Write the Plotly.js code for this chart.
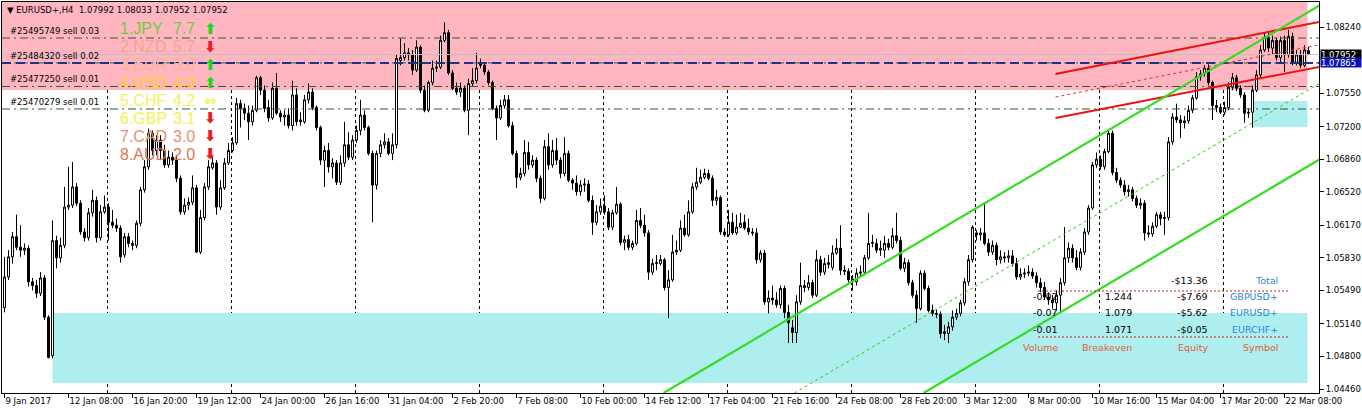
<!DOCTYPE html>
<html><head><meta charset="utf-8">
<script src="https://cdn.plot.ly/plotly-3.0.1.min.js"></script>
<style>html,body{margin:0;padding:0;background:#fff;}#chart{width:1362px;height:414px;}</style>
</head><body><div id="chart"></div>
<script>
// EURUSD+ H4 bars (index 0 = 9 Jan 2017 16:00)
const open=[1.0531,1.0563,1.0584,1.0605,1.0594,1.0591,1.0593,1.0558,1.0554,1.0546,
1.0562,1.0521,1.0481,1.0601,1.0583,1.0596,1.0636,1.0638,1.0657,1.0640,
1.0610,1.0604,1.0630,1.0643,1.0604,1.0631,1.0636,1.0620,1.0617,1.0614,
1.0586,1.0605,1.0598,1.0596,1.0619,1.0654,1.0678,1.0713,1.0695,1.0706,
1.0695,1.0680,1.0688,1.0685,1.0666,1.0631,1.0638,1.0641,1.0656,1.0589,
1.0625,1.0657,1.0677,1.0682,1.0636,1.0656,1.0682,1.0695,1.0703,1.0744,
1.0739,1.0734,1.0725,1.0737,1.0771,1.0758,1.0740,1.0729,1.0760,1.0734,
1.0730,1.0732,1.0721,1.0753,1.0727,1.0725,1.0748,1.0756,1.0740,1.0719,
1.0685,1.0695,1.0678,1.0682,1.0662,1.0682,1.0701,1.0688,1.0706,1.0716,
1.0732,1.0719,1.0692,1.0659,1.0692,1.0701,1.0704,1.0692,1.0701,1.0789,
1.0792,1.0797,1.0795,1.0779,1.0803,1.0758,1.0737,1.0766,1.0781,1.0782,
1.0810,1.0818,1.0776,1.0760,1.0756,1.0760,1.0737,1.0765,1.0768,1.0787,
1.0784,1.0777,1.0766,1.0739,1.0729,1.0742,1.0748,1.0721,1.0692,1.0667,
1.0671,1.0693,1.0680,1.0685,1.0666,1.0645,1.0699,1.0680,1.0695,1.0685,
1.0671,1.0692,1.0664,1.0661,1.0652,1.0659,1.0660,1.0643,1.0620,1.0631,
1.0637,1.0631,1.0615,1.0630,1.0639,1.0599,1.0602,1.0594,1.0598,1.0622,
1.0617,1.0609,1.0568,1.0577,1.0577,1.0581,1.0552,1.0560,1.0589,1.0591,
1.0614,1.0607,1.0631,1.0657,1.0662,1.0667,1.0671,1.0666,1.0643,1.0646,
1.0610,1.0607,1.0620,1.0609,1.0615,1.0620,1.0614,1.0610,1.0609,1.0581,
1.0588,1.0537,1.0541,1.0539,1.0534,1.0551,1.0526,1.0510,1.0505,1.0537,
1.0554,1.0552,1.0557,1.0544,1.0581,1.0568,1.0576,1.0573,1.0588,1.0593,
1.0570,1.0569,1.0561,1.0558,1.0567,1.0568,1.0583,1.0598,1.0598,1.0591,
1.0591,1.0598,1.0594,1.0606,1.0601,1.0572,1.0578,1.0557,1.0544,1.0530,
1.0567,1.0551,1.0528,1.0525,1.0524,1.0504,1.0504,1.0511,1.0521,1.0525,
1.0536,1.0558,1.0581,1.0609,1.0607,1.0609,1.0598,1.0589,1.0596,1.0581,
1.0584,1.0583,1.0585,1.0577,1.0563,1.0566,1.0567,1.0568,1.0564,1.0557,
1.0552,1.0542,1.0539,1.0536,1.0544,1.0557,1.0583,1.0593,1.0583,1.0573,
1.0589,1.0610,1.0635,1.0680,1.0686,1.0678,1.0694,1.0713,1.0672,1.0664,
1.0659,1.0652,1.0654,1.0645,1.0638,1.0640,1.0609,1.0608,1.0616,1.0628,
1.0624,1.0625,1.0704,1.0730,1.0727,1.0724,1.0726,1.0737,1.0750,1.0772,
1.0775,1.0781,1.0766,1.0742,1.0740,1.0735,1.0740,1.0761,1.0771,1.0760,
1.0753,1.0734,1.0735,1.0758,1.0774,1.0800,1.0813,1.0802,1.0810,1.0792,
1.0810,1.0795,1.0814,1.0787,1.0795,1.0784,1.07992];
const high=[1.0584,1.0591,1.0610,1.0628,1.0617,1.0598,1.0596,1.0562,1.0560,1.0568,
1.0565,1.0523,1.0622,1.0606,1.0604,1.0657,1.0678,1.0683,1.0661,1.0643,
1.0614,1.0635,1.0654,1.0647,1.0638,1.0648,1.0640,1.0633,1.0624,1.0617,
1.0609,1.0609,1.0601,1.0622,1.0657,1.0685,1.0718,1.0716,1.0711,1.0711,
1.0701,1.0695,1.0693,1.0690,1.0669,1.0645,1.0646,1.0669,1.0659,1.0633,
1.0661,1.0685,1.0690,1.0685,1.0664,1.0687,1.0703,1.0709,1.0750,1.0748,
1.0744,1.0742,1.0742,1.0773,1.0773,1.0763,1.0748,1.0766,1.0776,1.0737,
1.0737,1.0739,1.0768,1.0760,1.0735,1.0753,1.0765,1.0760,1.0742,1.0721,
1.0700,1.0703,1.0687,1.0685,1.0690,1.0725,1.0714,1.0711,1.0721,1.0748,
1.0737,1.0721,1.0695,1.0695,1.0706,1.0713,1.0708,1.0713,1.0795,1.0812,
1.0807,1.0802,1.0800,1.0810,1.0805,1.0763,1.0768,1.0789,1.0789,1.0815,
1.0829,1.0821,1.0779,1.0766,1.0766,1.0763,1.0770,1.0781,1.0797,1.0791,
1.0787,1.0779,1.0768,1.0742,1.0748,1.0753,1.0753,1.0725,1.0695,1.0677,
1.0706,1.0704,1.0690,1.0688,1.0669,1.0706,1.0713,1.0706,1.0708,1.0688,
1.0709,1.0695,1.0666,1.0669,1.0664,1.0666,1.0664,1.0648,1.0638,1.0645,
1.0648,1.0635,1.0633,1.0657,1.0641,1.0606,1.0607,1.0601,1.0633,1.0635,
1.0628,1.0612,1.0582,1.0586,1.0586,1.0583,1.0570,1.0607,1.0601,1.0622,
1.0628,1.0643,1.0661,1.0677,1.0675,1.0676,1.0675,1.0669,1.0654,1.0648,
1.0614,1.0633,1.0630,1.0628,1.0630,1.0628,1.0624,1.0614,1.0614,1.0591,
1.0591,1.0549,1.0554,1.0547,1.0554,1.0554,1.0534,1.0518,1.0544,1.0578,
1.0560,1.0565,1.0560,1.0591,1.0585,1.0583,1.0586,1.0596,1.0603,1.0617,
1.0575,1.0572,1.0565,1.0572,1.0575,1.0586,1.0630,1.0607,1.0603,1.0601,
1.0606,1.0603,1.0614,1.0630,1.0605,1.0583,1.0581,1.0560,1.0549,1.0570,
1.0570,1.0554,1.0534,1.0529,1.0527,1.0513,1.0516,1.0528,1.0530,1.0539,
1.0562,1.0586,1.0617,1.0612,1.0614,1.0640,1.0603,1.0601,1.0599,1.0591,
1.0589,1.0591,1.0591,1.0583,1.0572,1.0572,1.0575,1.0572,1.0568,1.0562,
1.0558,1.0547,1.0544,1.0549,1.0562,1.0615,1.0599,1.0597,1.0591,1.0593,
1.0614,1.0638,1.0683,1.0693,1.0690,1.0697,1.0716,1.0716,1.0677,1.0667,
1.0664,1.0659,1.0657,1.0648,1.0645,1.0643,1.0617,1.0620,1.0631,1.0631,
1.0631,1.0709,1.0734,1.0744,1.0732,1.0731,1.0742,1.0753,1.0777,1.0779,
1.0784,1.0785,1.0768,1.0748,1.0744,1.0746,1.0766,1.0776,1.0774,1.0763,
1.0756,1.0739,1.0763,1.0779,1.0805,1.0818,1.0818,1.0815,1.0813,1.0814,
1.0815,1.0821,1.0818,1.0800,1.0800,1.0805,1.08033];
const low=[1.0526,1.0560,1.0577,1.0591,1.0584,1.0586,1.0553,1.0549,1.0541,1.0543,
1.0518,1.0478,1.0478,1.0572,1.0578,1.0593,1.0633,1.0635,1.0637,1.0607,
1.0600,1.0601,1.0626,1.0599,1.0601,1.0629,1.0601,1.0614,1.0610,1.0578,
1.0583,1.0594,1.0591,1.0593,1.0616,1.0651,1.0675,1.0690,1.0690,1.0685,
1.0677,1.0677,1.0680,1.0662,1.0628,1.0628,1.0633,1.0638,1.0588,1.0587,
1.0622,1.0654,1.0675,1.0628,1.0633,1.0654,1.0680,1.0693,1.0701,1.0719,
1.0727,1.0706,1.0721,1.0735,1.0753,1.0735,1.0725,1.0727,1.0732,1.0725,
1.0721,1.0718,1.0716,1.0721,1.0721,1.0723,1.0744,1.0737,1.0716,1.0680,
1.0657,1.0672,1.0666,1.0659,1.0659,1.0678,1.0685,1.0685,1.0703,1.0711,
1.0716,1.0690,1.0620,1.0654,1.0688,1.0697,1.0690,1.0685,1.0697,1.0784,
1.0789,1.0789,1.0774,1.0777,1.0755,1.0735,1.0735,1.0763,1.0777,1.0780,
1.0808,1.0774,1.0758,1.0753,1.0751,1.0735,1.0711,1.0762,1.0765,1.0781,
1.0774,1.0763,1.0737,1.0706,1.0727,1.0739,1.0719,1.0690,1.0656,1.0664,
1.0668,1.0675,1.0677,1.0662,1.0640,1.0643,1.0675,1.0677,1.0680,1.0666,
1.0668,1.0662,1.0654,1.0648,1.0648,1.0652,1.0641,1.0607,1.0617,1.0628,
1.0628,1.0612,1.0612,1.0628,1.0596,1.0591,1.0591,1.0591,1.0596,1.0614,
1.0605,1.0560,1.0565,1.0570,1.0575,1.0549,1.0520,1.0558,1.0586,1.0589,
1.0605,1.0605,1.0629,1.0654,1.0660,1.0665,1.0664,1.0637,1.0638,1.0607,
1.0605,1.0605,1.0607,1.0607,1.0614,1.0612,1.0607,1.0606,1.0577,1.0578,
1.0534,1.0525,1.0534,1.0531,1.0530,1.0520,1.0494,1.0494,1.0494,1.0534,
1.0547,1.0549,1.0541,1.0542,1.0564,1.0565,1.0572,1.0570,1.0586,1.0565,
1.0565,1.0557,1.0549,1.0554,1.0564,1.0565,1.0581,1.0594,1.0588,1.0585,
1.0583,1.0591,1.0592,1.0598,1.0570,1.0568,1.0554,1.0541,1.0515,1.0528,
1.0549,1.0526,1.0522,1.0520,1.0499,1.0497,1.0494,1.0507,1.0518,1.0522,
1.0533,1.0554,1.0578,1.0601,1.0601,1.0596,1.0585,1.0586,1.0575,1.0577,
1.0578,1.0578,1.0574,1.0560,1.0560,1.0562,1.0564,1.0561,1.0552,1.0547,
1.0539,1.0534,1.0530,1.0528,1.0526,1.0554,1.0578,1.0578,1.0570,1.0570,
1.0586,1.0607,1.0633,1.0677,1.0675,1.0675,1.0692,1.0669,1.0661,1.0656,
1.0648,1.0647,1.0642,1.0635,1.0634,1.0601,1.0604,1.0605,1.0614,1.0617,
1.0607,1.0622,1.0701,1.0724,1.0708,1.0718,1.0723,1.0734,1.0748,1.0768,
1.0772,1.0763,1.0727,1.0735,1.0733,1.0732,1.0737,1.0758,1.0757,1.0750,
1.0724,1.0729,1.0719,1.0756,1.0771,1.0798,1.0798,1.0795,1.0789,1.0787,
1.0777,1.0792,1.0784,1.0784,1.0781,1.0782,1.07952];
const close=[1.0563,1.0584,1.0605,1.0594,1.0591,1.0593,1.0558,1.0554,1.0546,1.0562,
1.0521,1.0479,1.0601,1.0583,1.0596,1.0636,1.0638,1.0657,1.0640,1.0610,
1.0604,1.0630,1.0643,1.0604,1.0631,1.0636,1.0620,1.0617,1.0614,1.0584,
1.0605,1.0598,1.0596,1.0619,1.0654,1.0678,1.0713,1.0695,1.0706,1.0695,
1.0680,1.0688,1.0685,1.0666,1.0631,1.0638,1.0641,1.0656,1.0589,1.0625,
1.0657,1.0678,1.0682,1.0636,1.0656,1.0682,1.0695,1.0703,1.0744,1.0739,
1.0734,1.0725,1.0737,1.0771,1.0758,1.0739,1.0729,1.0760,1.0734,1.0730,
1.0732,1.0721,1.0753,1.0725,1.0725,1.0748,1.0756,1.0740,1.0719,1.0685,
1.0695,1.0678,1.0682,1.0662,1.0682,1.0701,1.0688,1.0706,1.0716,1.0732,
1.0719,1.0692,1.0659,1.0692,1.0701,1.0704,1.0692,1.0701,1.0791,1.0792,
1.0797,1.0795,1.0779,1.0803,1.0758,1.0737,1.0766,1.0781,1.0782,1.0810,
1.0818,1.0776,1.0760,1.0756,1.0760,1.0737,1.0765,1.0768,1.0781,1.0784,
1.0777,1.0766,1.0739,1.0729,1.0742,1.0748,1.0721,1.0692,1.0667,1.0671,
1.0693,1.0680,1.0685,1.0666,1.0645,1.0699,1.0680,1.0695,1.0685,1.0671,
1.0692,1.0664,1.0661,1.0652,1.0659,1.0660,1.0643,1.0620,1.0631,1.0637,
1.0631,1.0615,1.0630,1.0639,1.0599,1.0602,1.0594,1.0598,1.0622,1.0617,
1.0609,1.0568,1.0577,1.0578,1.0581,1.0552,1.0560,1.0589,1.0591,1.0614,
1.0607,1.0631,1.0657,1.0662,1.0667,1.0671,1.0666,1.0643,1.0646,1.0610,
1.0607,1.0620,1.0609,1.0615,1.0619,1.0614,1.0610,1.0609,1.0581,1.0588,
1.0537,1.0541,1.0539,1.0534,1.0551,1.0526,1.0515,1.0505,1.0537,1.0554,
1.0552,1.0557,1.0544,1.0581,1.0568,1.0577,1.0578,1.0588,1.0593,1.0570,
1.0569,1.0560,1.0558,1.0567,1.0568,1.0583,1.0598,1.0599,1.0591,1.0593,
1.0598,1.0594,1.0606,1.0601,1.0572,1.0578,1.0557,1.0544,1.0530,1.0567,
1.0551,1.0528,1.0525,1.0524,1.0504,1.0506,1.0511,1.0521,1.0525,1.0536,
1.0558,1.0581,1.0615,1.0607,1.0609,1.0598,1.0589,1.0596,1.0581,1.0584,
1.0583,1.0585,1.0577,1.0563,1.0566,1.0567,1.0568,1.0564,1.0557,1.0552,
1.0542,1.0539,1.0536,1.0544,1.0557,1.0583,1.0593,1.0583,1.0573,1.0589,
1.0610,1.0635,1.0680,1.0686,1.0678,1.0694,1.0713,1.0672,1.0664,1.0659,
1.0652,1.0654,1.0645,1.0638,1.0640,1.0609,1.0608,1.0616,1.0628,1.0624,
1.0625,1.0704,1.0730,1.0727,1.0724,1.0726,1.0737,1.0750,1.0772,1.0775,
1.0781,1.0766,1.0742,1.0740,1.0735,1.0740,1.0761,1.0771,1.0760,1.0753,
1.0734,1.0735,1.0758,1.0774,1.0800,1.0813,1.0802,1.0810,1.0792,1.0810,
1.0795,1.0814,1.0787,1.0795,1.0784,1.0800,1.07952];
const barIndex = open.map((_, i) => i);

const timeLabels = ["9 Jan 2017","12 Jan 08:00","16 Jan 20:00","19 Jan 12:00","24 Jan 00:00","26 Jan 16:00","31 Jan 04:00","2 Feb 20:00","7 Feb 08:00","10 Feb 00:00","14 Feb 12:00","17 Feb 04:00","21 Feb 16:00","24 Feb 08:00","28 Feb 20:00","3 Mar 12:00","8 Mar 00:00","10 Mar 16:00","15 Mar 04:00","17 Mar 20:00","22 Mar 08:00"];
const timeLabelBars = [0,16,32,48,64,80,96,112,128,144,160,176,192,208,224,240,256,272,288,304,320];
const priceTicks = [1.08240,1.07550,1.07200,1.06860,1.06520,1.06170,1.05830,1.05490,1.05140,1.04800,1.04460];
const weekBreaks = [25.75,56.75,87.75,118.75,149.75,180.75,211.75,242.75,273.75,304.75];

const bidPrice = 1.07952, avgPrice = 1.07865;
const orders = [["#25495749 sell 0.03",1.08125],["#25484320 sell 0.02",1.07865],["#25477250 sell 0.01",1.07619],["#25470279 sell 0.01",1.07384]];
// zones [x0 bar, x1 bar, price low, price high, colour]
const zones = [[-0.7,325.75,1.07582,1.0860,"#ffb6c1"],[12,325.75,1.04523,1.05254,"#afeeee"],[312,325.75,1.07196,1.07467,"#afeeee"]];
// trend lines [bar0, price0, bar1, price1, colour, width, dash]
const trendLines = [
 [262.75,1.07749,328.75,1.08294,"#ee1111",2,"solid"],
 [262.75,1.07290,328.75,1.07824,"#ee1111",2,"solid"],
 [262.75,1.07509,328.75,1.08055,"#d83030",1,"3px,3px"],
 [164.75,1.04418,328.75,1.08465,"#33dd22",2.2,"solid"],
 [197.5,1.04418,328.75,1.07651,"#33cc22",1,"3px,3px"],
 [229.75,1.04418,328.75,1.06857,"#33dd22",2.2,"solid"]];

const strength = [["1.JPY","7.7","#6acd45","up"],["2.NZD","5.7","#f3a58c","down"],["3.EUR","5.0","#f2b892","up"],["4.USD","4.9","#ffcf30","up"],["5.CHF","4.2","#f4f15c","flat"],["6.GBP","3.1","#f4f04e","down"],["7.CAD","3.0","#e8906a","down"],["8.AUD","2.0","#df7550","down"]];
const tblSymbols = ["GBPUSD+","EURUSD+","EURCHF+"];
const tblVolume = ["-0.02","-0.07","-0.01"];
const tblBreakeven = ["1.244","1.079","1.071"];
const tblEquity = ["-$7.69","-$5.62","-$0.05"];
const tblTotal = "-$13.36";

const L=2, T=2, W=1317, H=391;
const X0 = -0.625;
const PX = x => (x - L) / W;
const PY = y => (T + H - y) / H;
const F = "DejaVu Sans";

const shapes = [];
zones.forEach(z => shapes.push({type:"rect",xref:"x",yref:"y",x0:z[0],x1:z[1],y0:z[2],y1:z[3],fillcolor:z[4],line:{width:0},layer:"below"}));
weekBreaks.forEach(v => shapes.push({type:"line",xref:"x",yref:"paper",x0:v,x1:v,y0:0,y1:1,line:{color:"#000",width:1,dash:"3px,3px"},layer:"below"}));
orders.forEach(o => shapes.push({type:"line",xref:"paper",yref:"y",x0:0,x1:1,y0:o[1],y1:o[1],line:{color:"#2d5e2d",width:1,dash:"8px,4px,2px,4px"}}));
shapes.push({type:"line",xref:"paper",yref:"y",x0:0,x1:1,y0:bidPrice,y1:bidPrice,line:{color:"#c0c0c0",width:1}});
shapes.push({type:"line",xref:"paper",yref:"y",x0:0,x1:1,y0:avgPrice,y1:avgPrice,line:{color:"#1a3487",width:2,dash:"9px,5px"}});
trendLines.forEach(t => shapes.push({type:"line",xref:"x",yref:"y",x0:t[0],y0:t[1],x1:t[2],y1:t[3],line:{color:t[4],width:t[5],dash:t[6]}}));
[291,337].forEach(y => shapes.push({type:"line",xref:"paper",yref:"paper",x0:PX(1038),x1:PX(1290),y0:PY(y),y1:PY(y),line:{color:"#cc1a1a",width:1,dash:"2px,2px"}}));

const ann = [];
function txt(x, y, text, opt){
  ann.push(Object.assign({xref:"paper",yref:"paper",x:PX(x),y:PY(y),text:text,showarrow:false,xanchor:"left",yanchor:"middle",font:{family:F,size:8.5,color:"#000"}}, opt||{}));
}
txt(5, 10, "▼ EURUSD+,H4\u00a0 1.07992 1.08033 1.07952 1.07952");
orders.forEach(o => ann.push({xref:"paper",yref:"y",x:PX(8),y:o[1],yshift:7,text:o[0],showarrow:false,xanchor:"left",yanchor:"middle",font:{family:F,size:8.5,color:"#000"}}));
strength.forEach((s,k) => {
  const y = 29 + 17.9*k;
  txt(118, y, s[0], {font:{family:"Liberation Sans",size:16,color:s[2]}});
  txt(171, y, s[1], {font:{family:"Liberation Sans",size:16,color:s[2]}});
  const sym = s[3]==="up" ? "⬆" : (s[3]==="down" ? "⬇" : "⇔");
  const col = s[3]==="up" ? "#19d919" : (s[3]==="down" ? "#ee1c1c" : "#f4f15c");
  txt(210, y, sym, {xanchor:"center", font:{family:"DejaVu Sans",size:15,color:col,weight:"bold"}});
});
const tf = {family:F,size:9.5,color:"#000"};
const blue = {family:F,size:9.5,color:"#2a86dc"};
const orange = {family:F,size:9.5,color:"#e15f37"};
txt(1210, 280, tblTotal, {xanchor:"right", font:tf});
txt(1280, 280, "Total", {xanchor:"right", font:blue});
tblSymbols.forEach((s,k) => {
  const y = 296 + 16.5*k;
  txt(1060, y, tblVolume[k], {xanchor:"right", font:tf});
  txt(1103, y, tblBreakeven[k], {font:tf});
  txt(1210, y, tblEquity[k], {xanchor:"right", font:tf});
  txt(1280, y, s, {xanchor:"right", font:blue});
});
txt(1060, 347, "Volume", {xanchor:"right", font:orange});
txt(1080, 347, "Breakeven", {font:orange});
txt(1210, 347, "Equity", {xanchor:"right", font:orange});
txt(1280, 347, "Symbol", {xanchor:"right", font:orange});
ann.push({xref:"paper",yref:"y",x:PX(1320),y:bidPrice,text:"1.07952",showarrow:false,xanchor:"left",yanchor:"middle",bgcolor:"#000",borderpad:0,width:40,height:9,align:"left",font:{family:F,size:8.5,color:"#fff"}});
ann.push({xref:"paper",yref:"y",x:PX(1320),y:avgPrice,text:"1.07865",showarrow:false,xanchor:"left",yanchor:"middle",bgcolor:"#0c12b4",borderpad:0,width:40,height:9,align:"left",font:{family:F,size:8.5,color:"#fff"}});

const trace = {type:"candlestick",x:barIndex,open:open,high:high,low:low,close:close,
  increasing:{line:{color:"#000",width:1},fillcolor:"#fff"},
  decreasing:{line:{color:"#000",width:1},fillcolor:"#000"},
  whiskerwidth:0,hoverinfo:"skip",showlegend:false};

const layout = {
  width:1362,height:414,margin:{l:L,r:1362-L-W,t:T,b:414-T-H,pad:0},
  paper_bgcolor:"#fff",plot_bgcolor:"#fff",showlegend:false,
  boxgap:0.5,boxgroupgap:0,
  font:{family:F,size:8.5,color:"#000"},
  xaxis:{range:[X0,X0+W/4],rangeslider:{visible:false},showgrid:false,zeroline:false,
    tickmode:"array",tickvals:timeLabelBars,ticktext:timeLabels,ticks:"outside",ticklen:4,tickcolor:"#000",
    tickangle:0,ticklabelposition:"outside right",ticklabeloverflow:"allow",tickfont:{family:F,size:8.5,color:"#000"},
    showline:true,linecolor:"#000",linewidth:1,mirror:true,fixedrange:true},
  yaxis:{side:"right",range:[1.044184,1.085010],showgrid:false,zeroline:false,
    tickmode:"array",tickvals:priceTicks,ticktext:priceTicks.map(v=>v.toFixed(5)),ticks:"outside",ticklen:4,tickcolor:"#000",
    tickfont:{family:F,size:8.5,color:"#000"},showline:true,linecolor:"#000",linewidth:1,mirror:true,fixedrange:true},
  shapes:shapes,annotations:ann
};
Plotly.newPlot("chart",[trace],layout,{staticPlot:true,displayModeBar:false});
</script></body></html>
